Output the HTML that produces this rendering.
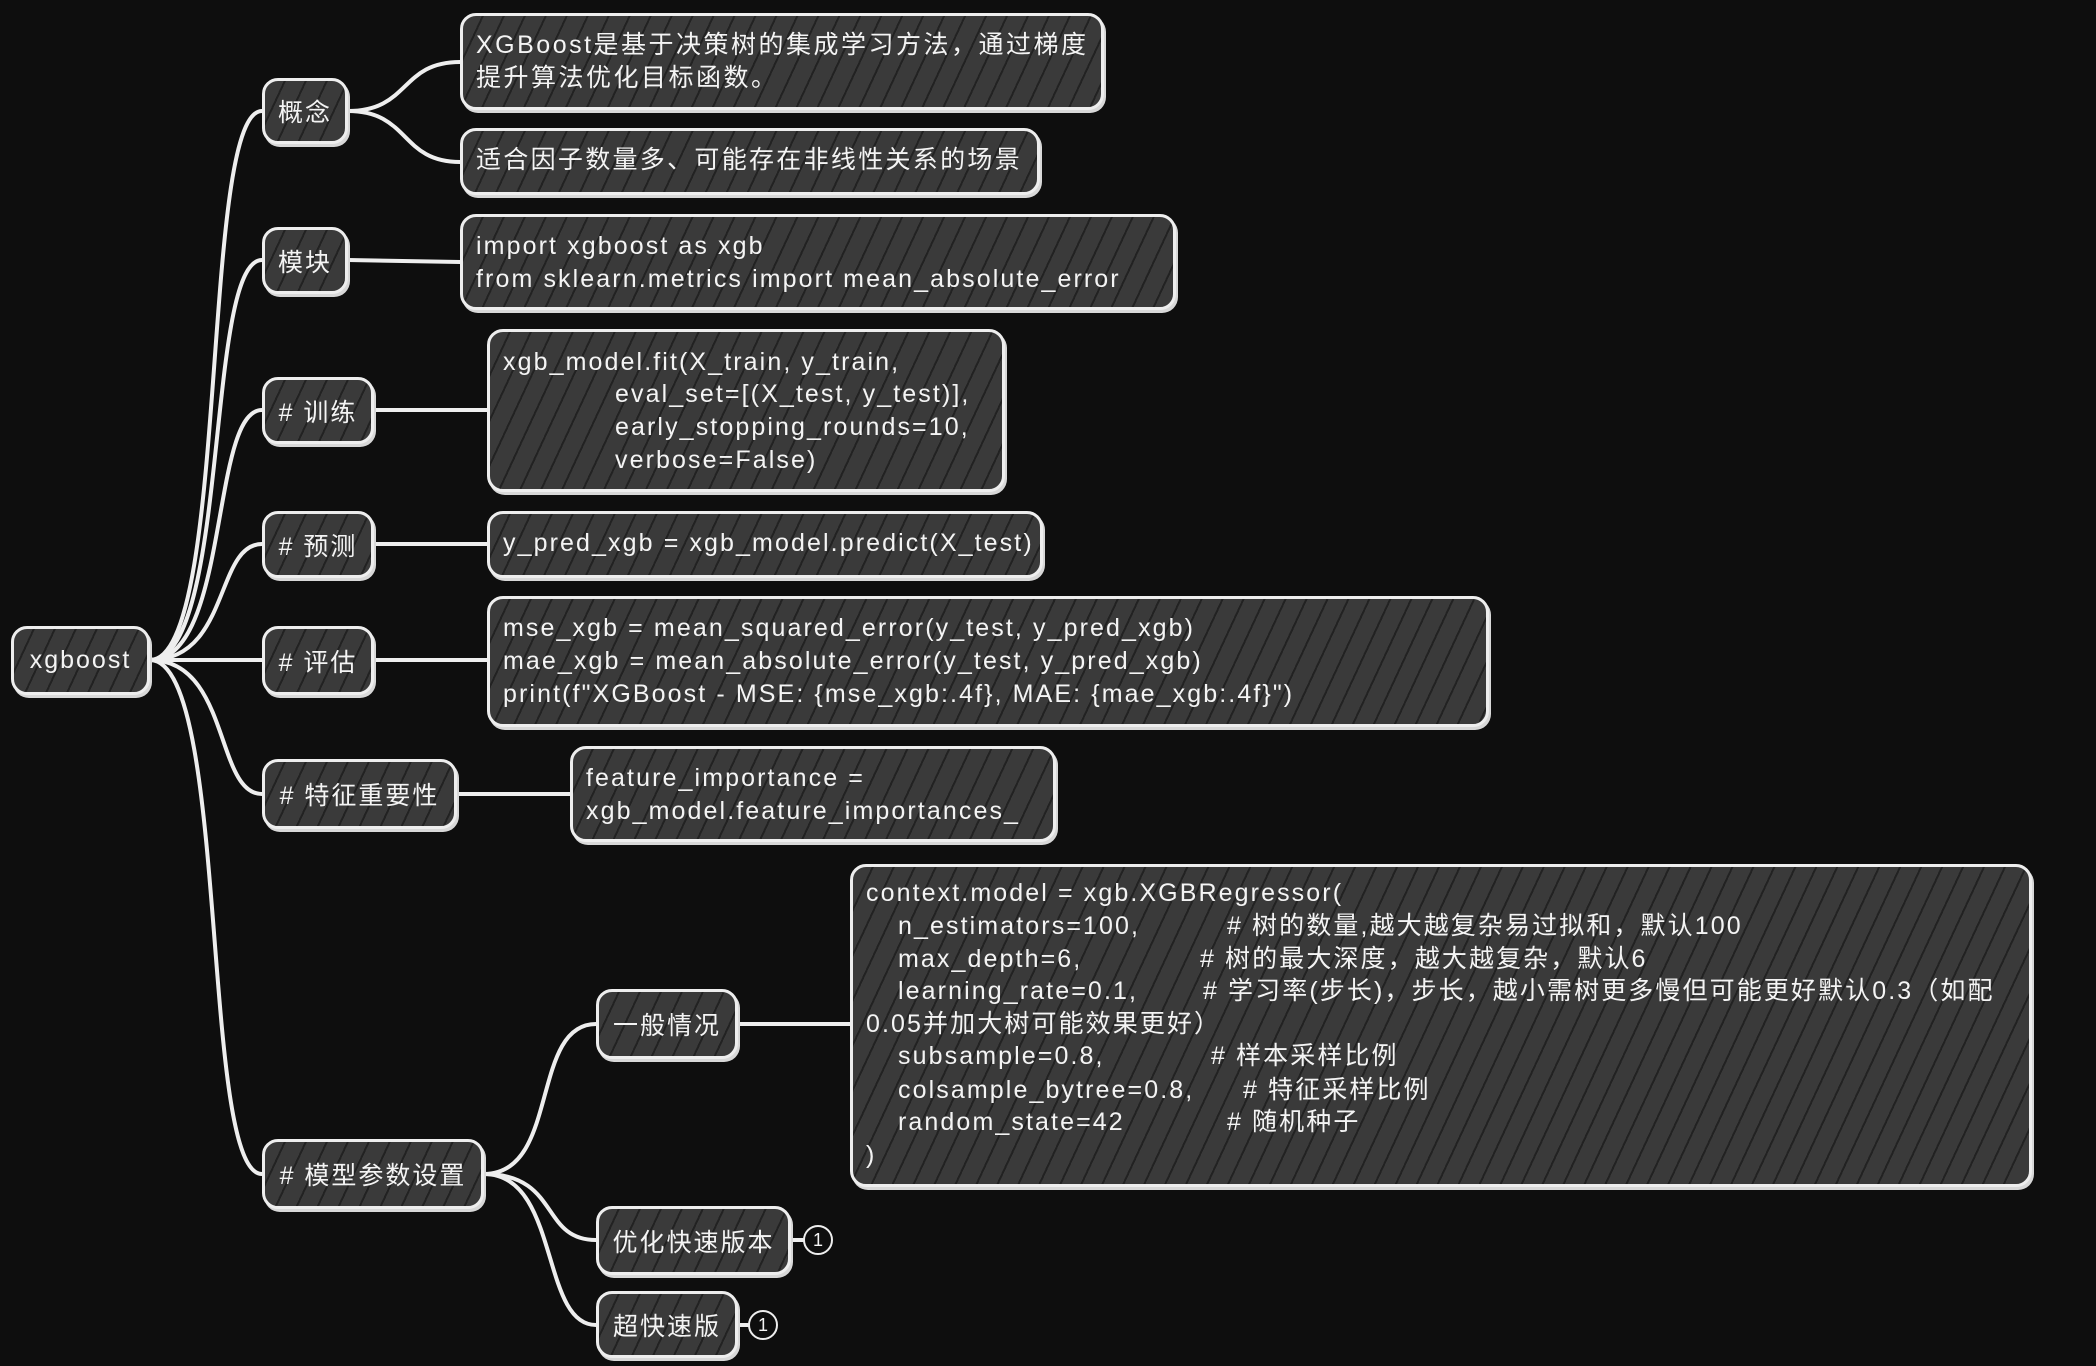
<!DOCTYPE html>
<html><head><meta charset="utf-8"><style>
html,body{margin:0;padding:0;background:#0e0e0e;}
#c{position:relative;width:2096px;height:1366px;overflow:hidden;background:#0e0e0e;font-family:"Liberation Sans","Noto Sans CJK SC",sans-serif;color:#f4f4f4;font-size:25px;}
.b{position:absolute;box-sizing:border-box;border:3px solid #eeeeee;border-radius:16px;background:#3a3a3a repeating-linear-gradient(115deg,rgba(0,0,0,0) 0 17px,rgba(15,15,15,.55) 17px 19px);box-shadow:2px 3px 0 #d8d8d8;}
.n{display:flex;align-items:center;justify-content:center;letter-spacing:2px;}
.t{position:absolute;white-space:pre;line-height:33px;letter-spacing:2.1px;}
svg{position:absolute;left:0;top:0;}
.cir{position:absolute;width:30px;height:30px;border:2px solid #eee;border-radius:50%;box-sizing:border-box;font-size:18px;display:flex;align-items:center;justify-content:center;background:#0e0e0e;}
</style></head><body><div id="c">
<svg width="2096" height="1366" fill="none" stroke="#eeeeee" stroke-width="4" stroke-linecap="round">
<path d="M150 660 C230 660,200 111,262 111"/>
<path d="M150 660 C230 660,205 260,262 260"/>
<path d="M150 660 C230 660,210 410,262 410"/>
<path d="M150 660 C230 660,215 544,262 544"/>
<path d="M150 660 L262 660"/>
<path d="M150 660 C230 660,215 794,262 794"/>
<path d="M150 660 C230 660,200 1174,262 1174"/>
<path d="M348 111 C410 111,400 62,460 62"/>
<path d="M348 111 C410 111,400 162,460 162"/>
<path d="M348 260 L460 262"/>
<path d="M374 410 L487 410"/>
<path d="M374 544 L487 544"/>
<path d="M374 660 L487 660"/>
<path d="M457 794 L570 794"/>
<path d="M484 1174 C560 1174,530 1024,596 1024"/>
<path d="M484 1174 C560 1174,540 1240,596 1240"/>
<path d="M484 1174 C560 1174,540 1325,596 1325"/>
<path d="M738 1024 L850 1024"/>
<path d="M791 1240 L803 1240"/>
<path d="M738 1325 L748 1325"/>
</svg>

<div class="b n" style="left:11px;top:626px;width:139px;height:69px;">xgboost</div>
<div class="b n" style="left:262px;top:78px;width:86px;height:66px;">概念</div>
<div class="b n" style="left:262px;top:227px;width:86px;height:67px;">模块</div>
<div class="b n" style="left:262px;top:377px;width:112px;height:67px;"># 训练</div>
<div class="b n" style="left:262px;top:511px;width:112px;height:67px;"># 预测</div>
<div class="b n" style="left:262px;top:626px;width:112px;height:69px;"># 评估</div>
<div class="b n" style="left:262px;top:759px;width:195px;height:70px;"># 特征重要性</div>
<div class="b n" style="left:262px;top:1139px;width:222px;height:70px;"># 模型参数设置</div>
<div class="b n" style="left:596px;top:989px;width:142px;height:70px;">一般情况</div>
<div class="b n" style="left:596px;top:1206px;width:195px;height:69px;">优化快速版本</div>
<div class="b n" style="left:596px;top:1291px;width:142px;height:67px;">超快速版</div>
<div class="cir" style="left:803px;top:1225px;">1</div>
<div class="cir" style="left:748px;top:1310px;">1</div>

<div class="b" style="left:460px;top:13px;width:644px;height:97px;"></div>
<div class="t" style="left:476px;top:29px;letter-spacing:2.5px;">XGBoost是基于决策树的集成学习方法，通过梯度
提升算法优化目标函数。</div>
<div class="b" style="left:460px;top:128px;width:580px;height:67px;"></div>
<div class="t" style="left:476px;top:144px;letter-spacing:2.3px;">适合因子数量多、可能存在非线性关系的场景</div>
<div class="b" style="left:460px;top:214px;width:716px;height:96px;"></div>
<div class="t" style="left:476px;top:230px;">import xgboost as xgb
from sklearn.metrics import mean_absolute_error</div>
<div class="b" style="left:487px;top:329px;width:518px;height:163px;"></div>
<div class="t" style="left:503px;top:346px;">xgb_model.fit(X_train, y_train,</div>
<div class="t" style="left:615px;top:378px;">eval_set=[(X_test, y_test)],
early_stopping_rounds=10,
verbose=False)</div>
<div class="b" style="left:487px;top:511px;width:556px;height:67px;"></div>
<div class="t" style="left:503px;top:527px;">y_pred_xgb = xgb_model.predict(X_test)</div>
<div class="b" style="left:487px;top:596px;width:1002px;height:131px;"></div>
<div class="t" style="left:503px;top:612px;">mse_xgb = mean_squared_error(y_test, y_pred_xgb)
mae_xgb = mean_absolute_error(y_test, y_pred_xgb)
print(f"XGBoost - MSE: {mse_xgb:.4f}, MAE: {mae_xgb:.4f}")</div>
<div class="b" style="left:570px;top:746px;width:486px;height:96px;"></div>
<div class="t" style="left:586px;top:762px;">feature_importance =
xgb_model.feature_importances_</div>
<div class="b" style="left:850px;top:864px;width:1182px;height:323px;"></div>
<div class="t" style="left:866px;top:877px;">context.model = xgb.XGBRegressor(</div>
<div class="t" style="left:898px;top:910px;">n_estimators=100,</div><div class="t" style="left:1227px;top:910px;"># 树的数量,越大越复杂易过拟和，默认100</div>
<div class="t" style="left:898px;top:943px;">max_depth=6,</div><div class="t" style="left:1200px;top:943px;"># 树的最大深度，越大越复杂，默认6</div>
<div class="t" style="left:898px;top:975px;">learning_rate=0.1,</div><div class="t" style="left:1203px;top:975px;"># 学习率(步长)，步长，越小需树更多慢但可能更好默认0.3（如配</div>
<div class="t" style="left:866px;top:1008px;">0.05并加大树可能效果更好）</div>
<div class="t" style="left:898px;top:1040px;">subsample=0.8,</div><div class="t" style="left:1211px;top:1040px;"># 样本采样比例</div>
<div class="t" style="left:898px;top:1074px;">colsample_bytree=0.8,</div><div class="t" style="left:1243px;top:1074px;"># 特征采样比例</div>
<div class="t" style="left:898px;top:1106px;">random_state=42</div><div class="t" style="left:1227px;top:1106px;"># 随机种子</div>
<div class="t" style="left:866px;top:1139px;">)</div>
</div></body></html>
